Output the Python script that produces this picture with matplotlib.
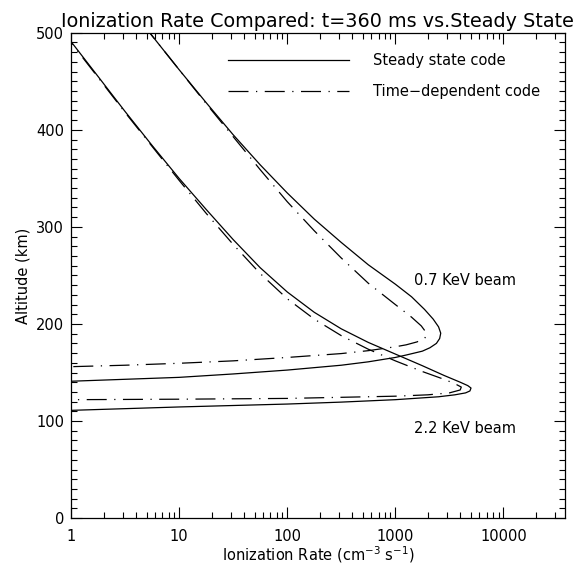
import numpy as np
import matplotlib.pyplot as plt
from matplotlib.ticker import FixedLocator, FuncFormatter, MultipleLocator

# ionization rate (cm^-3 s^-1) vs altitude (km)
# 0.7 keV beam
rate_07_ss = [4.57, 5.62, 10, 17.8, 31.6, 56.2, 100, 178, 316, 562, 1000, 1413, 1862, 2239, 2512, 2630,
              2570, 2399, 2089, 1778, 1259, 1000, 562, 316, 100, 31.6, 10, 3.16, 1]
alt_07_ss = [510, 497, 462, 428, 395, 364, 335, 308, 284, 261, 241, 228, 215, 205, 197, 190.5,
             185, 180, 175.5, 172, 168, 165.5, 161, 157.5, 152.5, 148.5, 145, 143, 141]
rate_07_td = [4.57, 5.62, 10, 17.8, 31.6, 56.2, 100, 178, 316, 562, 1000, 1413, 1738, 1905, 1950,
              1862, 1585, 1259, 1000, 562, 316, 100, 31.6, 10, 3.16, 1]
alt_07_td = [510, 497, 462, 427, 393, 359, 326, 296, 268, 242, 220, 207, 198, 192, 188.5,
             185, 181.5, 178.5, 176.5, 172.5, 169.5, 165.5, 162, 159.5, 157.5, 156]

# 2.2 keV beam
rate_22_ss = [0.8, 1, 1.78, 3.16, 5.62, 10, 17.8, 31.6, 56.2, 100, 178, 316, 562, 1000, 1778, 2818,
              3981, 4677, 5012, 4898, 4467, 3548, 2512, 1000, 316, 100, 10, 1]
alt_22_ss = [505, 491, 455, 419, 384, 350, 318, 287, 258, 233, 212, 195, 181, 169, 157, 147,
             140, 136.5, 134, 131, 129, 127, 125, 122, 119.5, 117.5, 114.5, 111]
rate_22_td = [0.8, 1, 1.78, 3.16, 5.62, 10, 17.8, 31.6, 56.2, 100, 178, 316, 562, 1000, 1778, 2818,
              3548, 4074, 3981, 3162, 1995, 1000, 100, 10, 1]
alt_22_td = [504, 490, 454, 418, 383, 348, 314, 282, 252, 226, 205, 188, 174, 162, 151, 143,
             138.5, 135, 132, 129, 127, 125.6, 123.3, 122.5, 122]

xtick_vals = [1, 10, 100, 1000, 10000]

plt.rcParams['font.family'] = 'DejaVu Sans'
fig = plt.figure(figsize=(5.77, 5.65), dpi=100)
ax = fig.add_axes([0.123, 0.083, 0.856, 0.859])

dashdot = (0, (16, 6, 1, 6))
lw = 0.9
ax.plot(rate_07_ss, alt_07_ss, color='black', lw=lw, label='Steady state code')
ax.plot(rate_07_td, alt_07_td, color='black', lw=lw, linestyle=dashdot, label='Time\u2212dependent code')
ax.plot(rate_22_ss, alt_22_ss, color='black', lw=lw)
ax.plot(rate_22_td, alt_22_td, color='black', lw=lw, linestyle=dashdot)

ax.set_xscale('log')
ax.set_xlim(1, 37000)
ax.set_ylim(0, 500)

ax.xaxis.set_major_locator(FixedLocator(xtick_vals))
ax.xaxis.set_major_formatter(FuncFormatter(lambda v, p: '%d' % round(v)))
ax.yaxis.set_major_locator(MultipleLocator(100))
ax.yaxis.set_minor_locator(MultipleLocator(10))
ax.tick_params(which='both', direction='in', top=True, right=True, labelsize=10.5, width=0.8)
ax.tick_params(which='major', length=8)
ax.tick_params(which='minor', length=4)
ax.tick_params(axis='x', pad=8)
ax.tick_params(axis='y', pad=5)
for s in ax.spines.values():
    s.set_linewidth(0.9)

ax.set_xlabel('Ionization Rate (cm$^{-3}$ s$^{-1}$)', fontsize=10.5, labelpad=0)
ax.set_ylabel('Altitude (km)', fontsize=10.5, labelpad=4)
ax.set_title('Ionization Rate Compared: t=360 ms vs.Steady State', fontsize=13.8, pad=4)

ax.text(1500, 245, '0.7 KeV beam', fontsize=10.5, va='center', ha='left')
ax.text(1500, 92, '2.2 KeV beam', fontsize=10.5, va='center', ha='left')

leg = ax.legend(loc='upper right', bbox_to_anchor=(0.976, 0.985), frameon=False, handlelength=8.3,
                handletextpad=1.6, labelspacing=1.1, fontsize=10.5)

fig.savefig('out.png', dpi=100)
